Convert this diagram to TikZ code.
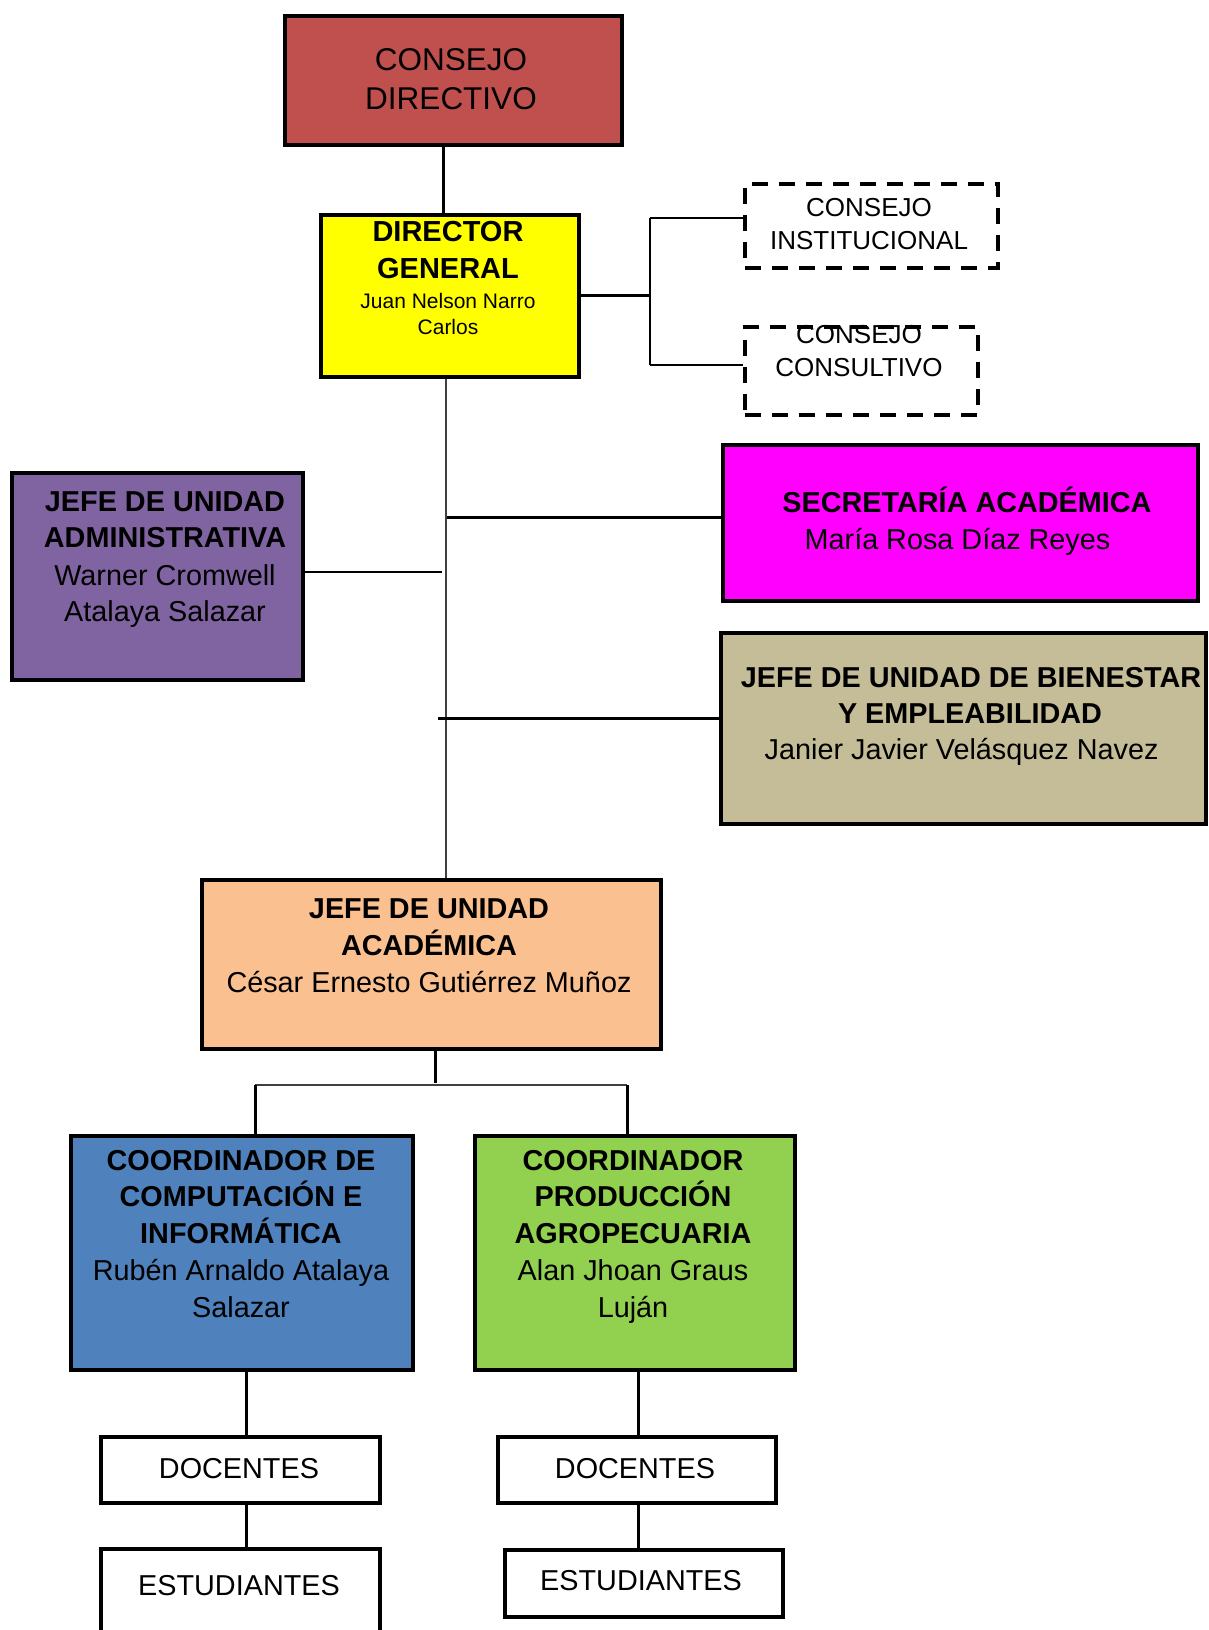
\documentclass[tikz,border=0pt]{standalone}
\usepackage{fontspec}
\setmainfont{Liberation Sans}
\begin{document}
\begin{tikzpicture}[x=1pt,y=-1pt,
 box/.style={draw=black, line width=4pt, inner sep=0pt, anchor=north west, xshift=2pt, yshift=-2pt},
 dbox/.style={box, dash pattern=on 16pt off 11pt},
 lbl/.style={anchor=base, inner sep=0pt},
 rg/.style={lbl, font=\fontsize{28.8}{30}\selectfont},
 bd/.style={lbl, font=\bfseries\fontsize{28.8}{30}\selectfont},
 conn/.style={line width=3pt},
 thinconn/.style={line width=2pt},
 grayconn/.style={line width=2pt, draw=black!75}
]
\definecolor{cdred}{HTML}{C0504D}
\definecolor{yel}{HTML}{FFFF00}
\definecolor{mag}{HTML}{FF00FF}
\definecolor{purp}{HTML}{8064A2}
\definecolor{tan}{HTML}{C4BD97}
\definecolor{peach}{HTML}{FAC090}
\definecolor{blu}{HTML}{4F81BD}
\definecolor{grn}{HTML}{92D050}
\path[use as bounding box] (0,0) rectangle (1209,1630);
\fill[white] (0,0) rectangle (1209,1630);

% boxes
\node[box, fill=cdred, minimum width=337pt, minimum height=129pt] (cd) at (281,12) {};
\node[box, fill=yel, minimum width=258pt, minimum height=162pt] (dg) at (317,211) {};
\node[dbox, fill=white, minimum width=253pt, minimum height=84pt] (ci) at (741,180) {};
\node[dbox, fill=white, minimum width=233pt, minimum height=88pt] (cc) at (741,323) {};
\node[box, fill=purp, minimum width=291pt, minimum height=207pt] (ja) at (8,469) {};
\node[box, fill=mag, minimum width=475pt, minimum height=156pt] (sa) at (719,441) {};
\node[box, fill=tan, minimum width=485pt, minimum height=191pt] (jb) at (717,629) {};
\node[box, fill=peach, minimum width=459pt, minimum height=169pt] (ua) at (198,876) {};
\node[box, fill=blu, minimum width=342pt, minimum height=234pt] (co1) at (67,1132) {};
\node[box, fill=grn, minimum width=320pt, minimum height=234pt] (co2) at (471,1132) {};
\node[box, fill=white, minimum width=279pt, minimum height=66pt] (d1) at (97,1433) {};
\node[box, fill=white, minimum width=278pt, minimum height=66pt] (d2) at (494,1433) {};
\node[box, fill=white, minimum width=278pt, minimum height=67pt] (e2) at (501,1546) {};
\begin{scope}
\clip (0,0) rectangle (1209,1630);
\node[box, fill=white, minimum width=279pt, minimum height=105pt] (e1) at (97,1545) {};
\end{scope}

% connector points
\coordinate (xa) at (443,0);
\coordinate (xt) at (446,0);
\coordinate (jr) at (650,295);
\coordinate (jt) at (650,218);
\coordinate (jbm) at (650,365);
\coordinate (pa) at (442,572);
\coordinate (ps) at (447,517);
\coordinate (pb) at (438,718);
\coordinate (xu) at (435,0);
\coordinate (ub) at (435,1083);
\coordinate (bl) at (255,1085);
\coordinate (br) at (627,1085);
\coordinate (xl) at (246,0);
\coordinate (xr) at (638,0);

% connectors
\draw[conn] (xa |- cd.south) -- (xa |- dg.north);
\draw[conn] (dg.east |- jr) -- (jr);
\draw[thinconn] (jt) -- (jbm);
\draw[thinconn] (jt) -- (ci.west |- jt);
\draw[thinconn] (jbm) -- (cc.west |- jbm);
\draw[grayconn] (xt |- dg.south) -- (xt |- ua.north);
\draw[thinconn] (ja.east |- pa) -- (pa);
\draw[conn] (ps) -- (sa.west |- ps);
\draw[conn] (pb) -- (jb.west |- pb);
\draw[conn] (xu |- ua.south) -- (ub);
\draw[grayconn] (bl) -- (br);
\draw[conn] (bl) -- (bl |- co1.north);
\draw[conn] (br) -- (br |- co2.north);
\draw[conn] (xl |- co1.south) -- (xl |- d1.north);
\draw[conn] (xl |- d1.south) -- (xl |- e1.north);
\draw[conn] (xr |- co2.south) -- (xr |- d2.north);
\draw[conn] (xr |- d2.south) -- (xr |- e2.north);

% texts
\node[lbl, font=\fontsize{31.5}{36}\selectfont] (t1a) at (451,70.6) {CONSEJO};
\node[lbl, font=\fontsize{31.5}{36}\selectfont] (t1b) at (451,109) {DIRECTIVO};

\node[bd, font=\bfseries\fontsize{29}{32}\selectfont] (t2a) at (448,241) {DIRECTOR};
\node[bd, font=\bfseries\fontsize{29}{32}\selectfont] (t2b) at (448,278.6) {GENERAL};
\node[lbl, font=\fontsize{21}{24}\selectfont] (t2c) at (448,308) {Juan Nelson Narro};
\node[lbl, font=\fontsize{21}{24}\selectfont] (t2d) at (448,334) {Carlos};

\node[lbl, font=\fontsize{26}{30}\selectfont] (t3a) at (869,216) {CONSEJO};
\node[lbl, font=\fontsize{26}{30}\selectfont] (t3b) at (869,249.5) {INSTITUCIONAL};
\node[lbl, font=\fontsize{26}{30}\selectfont] (t4a) at (859,343) {CONSEJO};
\node[lbl, font=\fontsize{26}{30}\selectfont] (t4b) at (859,376.3) {CONSULTIVO};

\node[bd] (t5a) at (165,511.3) {JEFE DE UNIDAD};
\node[bd] (t5b) at (165,547.7) {ADMINISTRATIVA};
\node[rg] (t5c) at (165,585) {Warner Cromwell};
\node[rg] (t5d) at (165,621.5) {Atalaya Salazar};

\node[bd] (t6a) at (967,512.3) {SECRETARÍA ACADÉMICA};
\node[rg] (t6b) at (957.5,549.8) {María Rosa Díaz Reyes};

\node[bd] (t7a) at (971,687) {JEFE DE UNIDAD DE BIENESTAR};
\node[bd] (t7b) at (970,723.4) {Y EMPLEABILIDAD};
\node[rg] (t7c) at (961.6,759.8) {Janier Javier Velásquez Navez};

\node[bd] (t8a) at (429,918.8) {JEFE DE UNIDAD};
\node[bd] (t8b) at (429,955.2) {ACADÉMICA};
\node[rg] (t8c) at (429,992.6) {César Ernesto Gutiérrez Muñoz};

\node[bd] (t9a) at (241,1170.4) {COORDINADOR DE};
\node[bd] (t9b) at (241,1206.8) {COMPUTACIÓN E};
\node[bd] (t9c) at (241,1243.2) {INFORMÁTICA};
\node[rg] (t9d) at (241,1280.6) {Rubén Arnaldo Atalaya};
\node[rg] (t9e) at (241,1317) {Salazar};

\node[bd] (t10a) at (633,1170.4) {COORDINADOR};
\node[bd] (t10b) at (633,1206.8) {PRODUCCIÓN};
\node[bd] (t10c) at (633,1243.2) {AGROPECUARIA};
\node[rg] (t10d) at (633,1280.6) {Alan Jhoan Graus};
\node[rg] (t10e) at (633,1317) {Luján};

\node[rg] (t11) at (239,1478.4) {DOCENTES};
\node[rg] (t12) at (239,1595.8) {ESTUDIANTES};
\node[rg] (t13) at (635,1478.4) {DOCENTES};
\node[rg] (t14) at (641,1590.6) {ESTUDIANTES};
\end{tikzpicture}
\end{document}
